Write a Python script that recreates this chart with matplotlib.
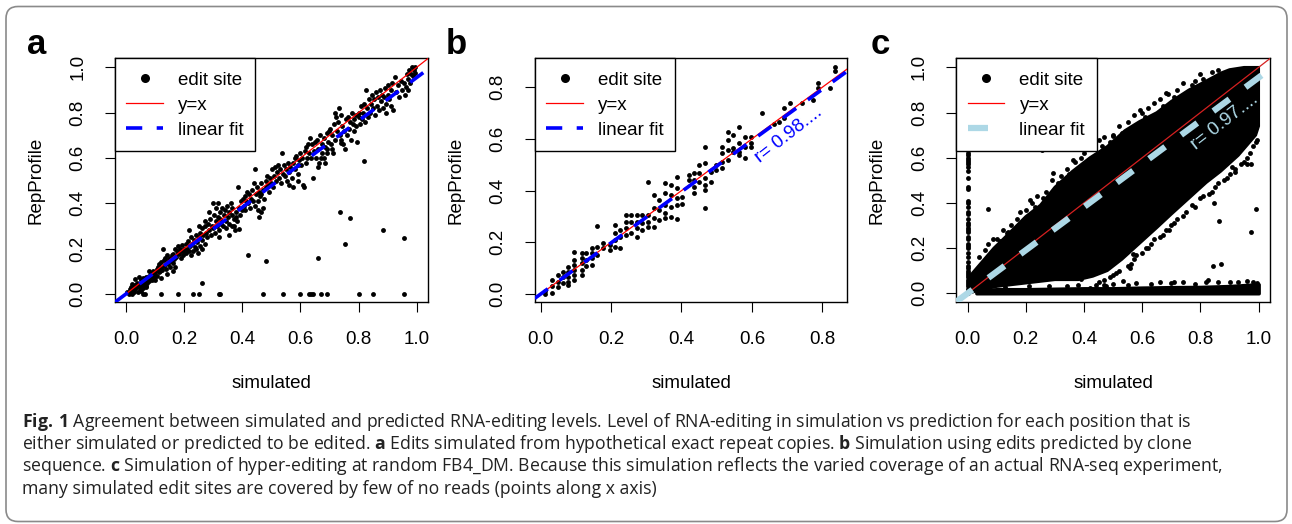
import numpy as np
import matplotlib
matplotlib.use("Agg")
from matplotlib import pyplot as plt
from matplotlib.lines import Line2D
from matplotlib.patches import FancyBboxPatch, Polygon

plt.rcParams['font.family'] = ['Liberation Sans', 'DejaVu Sans']
plt.rcParams['mathtext.fontset'] = 'custom'
plt.rcParams['mathtext.rm'] = 'Open Sans'
plt.rcParams['mathtext.bf'] = 'Open Sans:bold'

# ---------------- panel a : exact repeat copies ----------------
a_band = [
    (0.005,0.01),(0.01,0.0),(0.012,0.02),(0.015,0.005),(0.018,0.03),(0.02,0.015),(0.022,0.0),(0.025,0.025),
    (0.028,0.01),(0.03,0.04),(0.032,0.02),(0.035,0.03),(0.038,0.05),(0.04,0.01),(0.042,0.035),(0.045,0.045),
    (0.048,0.02),(0.05,0.06),(0.052,0.04),(0.055,0.03),(0.058,0.055),(0.06,0.07),(0.062,0.045),(0.065,0.06),
    (0.068,0.035),(0.07,0.075),(0.072,0.05),(0.075,0.065),(0.078,0.08),(0.08,0.055),(0.082,0.07),(0.085,0.09),
    (0.088,0.06),(0.09,0.08),(0.092,0.1),(0.095,0.07),(0.098,0.085),(0.1,0.095),(0.03,0.065),(0.045,0.075),
    (0.02,0.045),(0.07,0.03),(0.05,0.015),(0.06,0.025),(0.08,0.1),(0.1,0.06),
    (0.105,0.11),(0.108,0.08),(0.11,0.12),(0.113,0.095),(0.115,0.13),(0.118,0.1),(0.12,0.14),(0.122,0.115),
    (0.125,0.105),(0.128,0.2),(0.13,0.15),(0.132,0.125),(0.135,0.16),(0.138,0.11),(0.14,0.14),(0.142,0.17),
    (0.145,0.13),(0.148,0.155),(0.15,0.12),(0.152,0.16),(0.155,0.145),(0.158,0.17),(0.16,0.135),(0.163,0.175),
    (0.165,0.155),(0.168,0.12),(0.17,0.2),(0.172,0.165),(0.175,0.19),(0.178,0.18),(0.18,0.21),(0.183,0.175),
    (0.185,0.2),(0.188,0.16),(0.19,0.19),(0.193,0.215),(0.195,0.17),(0.198,0.2),(0.2,0.185),(0.16,0.1),
    (0.14,0.09),(0.12,0.07),
    (0.205,0.22),(0.208,0.18),(0.21,0.2),(0.213,0.235),(0.215,0.19),(0.218,0.28),(0.22,0.21),(0.223,0.17),
    (0.225,0.25),(0.228,0.22),(0.23,0.19),(0.233,0.24),(0.236,0.205),(0.24,0.26),(0.243,0.23),(0.246,0.18),
    (0.25,0.25),(0.253,0.27),(0.256,0.21),(0.26,0.24),(0.263,0.29),(0.266,0.26),(0.27,0.22),(0.273,0.3),
    (0.276,0.27),(0.28,0.25),(0.283,0.31),(0.286,0.28),(0.29,0.33),(0.293,0.26),(0.296,0.3),(0.298,0.4),
    (0.3,0.29),(0.27,0.32),(0.285,0.36),(0.25,0.3),(0.24,0.2),(0.26,0.2),
    (0.302,0.35),(0.305,0.27),(0.308,0.32),(0.31,0.38),(0.312,0.3),(0.315,0.34),(0.318,0.4),(0.32,0.28),
    (0.322,0.33),(0.325,0.36),(0.328,0.31),(0.33,0.38),(0.333,0.3),(0.336,0.35),(0.34,0.37),(0.343,0.32),
    (0.346,0.39),(0.35,0.34),(0.353,0.36),(0.356,0.31),(0.36,0.4),(0.363,0.35),(0.366,0.38),(0.37,0.33),
    (0.372,0.3),(0.375,0.28),(0.378,0.36),(0.38,0.34),(0.383,0.32),(0.386,0.47),(0.388,0.285),(0.39,0.38),
    (0.393,0.35),(0.396,0.41),(0.4,0.37),(0.345,0.29),(0.365,0.3),(0.32,0.25),(0.355,0.26),
    (0.403,0.42),(0.405,0.39),(0.408,0.43),(0.41,0.37),(0.413,0.41),(0.416,0.45),(0.42,0.4),(0.423,0.44),
    (0.426,0.38),(0.43,0.42),(0.433,0.46),(0.436,0.41),(0.44,0.49),(0.443,0.55),(0.446,0.44),(0.45,0.47),
    (0.453,0.41),(0.456,0.45),(0.459,0.34),(0.46,0.43),(0.463,0.49),(0.466,0.44),(0.47,0.38),(0.473,0.46),
    (0.476,0.42),(0.48,0.5),(0.483,0.47),(0.486,0.52),(0.49,0.48),(0.493,0.45),(0.496,0.51),(0.5,0.49),
    (0.455,0.37),(0.445,0.39),(0.465,0.36),
    (0.503,0.55),(0.506,0.47),(0.51,0.52),(0.513,0.56),(0.516,0.5),(0.52,0.54),(0.523,0.57),(0.526,0.51),
    (0.53,0.55),(0.533,0.49),(0.536,0.62),(0.54,0.53),(0.543,0.57),(0.546,0.52),(0.55,0.55),(0.553,0.5),
    (0.556,0.58),(0.56,0.54),(0.565,0.56),(0.57,0.51),(0.575,0.58),(0.58,0.6),(0.583,0.55),(0.586,0.61),
    (0.59,0.57),(0.593,0.5),(0.596,0.59),(0.6,0.62),(0.56,0.48),(0.575,0.47),(0.59,0.53),
    (0.603,0.57),(0.606,0.6),(0.61,0.48),(0.612,0.47),(0.615,0.63),(0.618,0.58),(0.62,0.65),(0.623,0.6),
    (0.626,0.66),(0.63,0.62),(0.633,0.69),(0.636,0.6),(0.64,0.66),(0.644,0.51),(0.648,0.63),(0.65,0.67),
    (0.653,0.6),(0.656,0.68),(0.66,0.64),(0.663,0.58),(0.666,0.7),(0.67,0.6),(0.673,0.66),(0.676,0.62),
    (0.68,0.69),(0.683,0.58),(0.686,0.65),(0.69,0.71),(0.693,0.62),(0.696,0.67),(0.7,0.72),(0.66,0.56),
    (0.68,0.6),(0.69,0.64),
    (0.703,0.73),(0.706,0.66),(0.71,0.7),(0.713,0.62),(0.716,0.75),(0.72,0.68),(0.723,0.78),(0.726,0.72),
    (0.73,0.76),(0.733,0.82),(0.736,0.7),(0.74,0.79),(0.743,0.74),(0.746,0.66),(0.75,0.72),(0.753,0.64),
    (0.756,0.77),(0.76,0.7),(0.763,0.78),(0.766,0.73),(0.77,0.76),(0.773,0.68),(0.776,0.8),(0.78,0.75),
    (0.783,0.77),(0.786,0.72),(0.79,0.79),(0.793,0.74),(0.796,0.67),(0.8,0.78),(0.74,0.68),(0.72,0.8),
    (0.71,0.64),
    (0.803,0.8),(0.806,0.75),(0.81,0.83),(0.813,0.77),(0.816,0.8),(0.82,0.84),(0.823,0.76),(0.826,0.9),
    (0.83,0.82),(0.833,0.78),(0.836,0.86),(0.84,0.8),(0.843,0.84),(0.846,0.88),(0.85,0.82),(0.853,0.86),
    (0.856,0.79),(0.86,0.89),(0.863,0.83),(0.866,0.87),(0.87,0.81),(0.873,0.9),(0.876,0.85),(0.88,0.88),
    (0.883,0.82),(0.886,0.87),(0.89,0.91),(0.893,0.84),(0.896,0.8),(0.9,0.88),
    (0.903,0.92),(0.906,0.86),(0.91,0.9),(0.913,0.83),(0.916,0.93),(0.92,0.81),(0.925,0.956),(0.93,0.89),
    (0.935,0.92),(0.94,0.87),(0.945,0.94),(0.95,0.9),(0.955,0.93),(0.96,0.88),(0.963,0.915),(0.966,0.97),
    (0.97,0.95),(0.973,0.99),(0.976,0.93),(0.98,0.97),(0.983,1.0),(0.986,0.96),(0.99,0.99),(0.993,0.975),
    (0.996,1.0),(0.97,0.9),
]
a_zero_x = [0.06, 0.065, 0.12, 0.18, 0.23, 0.25, 0.32, 0.325, 0.47, 0.54, 0.60, 0.63,
            0.635, 0.645, 0.67, 0.69, 0.80, 0.85, 0.955]
a_outliers = [(0.26,0.05),(0.42,0.17),(0.48,0.145),(0.66,0.16),(0.735,0.36),(0.77,0.335),
              (0.752,0.22),(0.885,0.28),(0.955,0.245),(0.82,0.585),(0.74,0.665)]
a_fit = (0.955, 0.0)   # slope, intercept of the linear fit

# ---------------- panel b : clone sequence ----------------
b_cols = {
    0.012: [0.01, 0.0], 0.031: [0.054, 0.031, 0.003], 0.05: [0.072, 0.048, 0.026],
    0.064: [0.086, 0.065, 0.041], 0.079: [0.106, 0.086, 0.067, 0.048, 0.035],
    0.096: [0.164, 0.132, 0.112, 0.093, 0.074, 0.054], 0.116: [0.157, 0.138, 0.119, 0.093, 0.074],
    0.129: [0.16, 0.13, 0.11], 0.145: [0.177, 0.157, 0.138, 0.112], 0.159: [0.263, 0.183, 0.151],
    0.178: [0.196, 0.177], 0.197: [0.17, 0.19], 0.211: [0.267, 0.235, 0.209, 0.183],
    0.225: [0.248, 0.222, 0.177], 0.241: [0.306, 0.28, 0.254, 0.228], 0.257: [0.306, 0.28, 0.235],
    0.273: [0.306, 0.28, 0.254, 0.219], 0.288: [0.306, 0.274, 0.248],
    0.306: [0.435, 0.306, 0.28, 0.261], 0.322: [0.383, 0.332, 0.293, 0.261],
    0.337: [0.364, 0.325, 0.286], 0.353: [0.428, 0.39, 0.345, 0.312, 0.293],
    0.369: [0.422, 0.383, 0.338, 0.299], 0.386: [0.452, 0.409, 0.37, 0.345, 0.289],
    0.402: [0.377, 0.348], 0.42: [0.461, 0.441], 0.436: [0.467, 0.441, 0.415, 0.39],
    0.451: [0.499, 0.467, 0.435], 0.467: [0.57, 0.506, 0.448, 0.422, 0.403, 0.332],
    0.483: [0.474, 0.435], 0.498: [0.499, 0.48], 0.516: [0.57, 0.545, 0.512, 0.486],
    0.531: [0.628, 0.596, 0.557, 0.519], 0.547: [0.615, 0.564, 0.551],
    0.564: [0.648, 0.583, 0.551, 0.538], 0.58: [0.609, 0.57, 0.525], 0.597: [0.609, 0.583, 0.57],
    0.628: [0.699], 0.663: [0.658], 0.678: [0.667], 0.691: [0.719, 0.68], 0.708: [0.738],
    0.741: [0.738], 0.773: [0.751], 0.789: [0.818, 0.796], 0.822: [0.796], 0.836: [0.88, 0.861],
}
b_fit = (0.99, 0.0)

# ---------------- panel c : hyper-editing at random FB4_DM ----------------
c_cloud = [(0.005,0.02),(0.01,0.08),(0.03,0.11),(0.09,0.2),(0.13,0.25),(0.2,0.34),(0.25,0.39),
           (0.3,0.47),(0.36,0.54),(0.42,0.6),(0.48,0.65),(0.54,0.72),(0.59,0.76),(0.65,0.8),
           (0.7,0.85),(0.76,0.9),(0.82,0.94),(0.87,0.975),(0.9,0.99),(0.95,1.0),(1.0,1.0),
           (1.0,0.74),(0.99,0.7),(0.93,0.61),(0.87,0.54),(0.82,0.49),(0.76,0.42),(0.7,0.35),
           (0.65,0.29),(0.59,0.22),(0.53,0.15),(0.48,0.1),(0.43,0.075),(0.38,0.06),(0.3,0.06),
           (0.2,0.045),(0.1,0.03),(0.03,0.01),(0.005,0.0)]
c_floor_x = [0.03, 0.1, 0.2, 0.3, 0.4, 0.5, 0.6, 0.7, 0.8, 0.9, 0.95, 1.0]
c_floor_top = [0.012, 0.018, 0.018, 0.02, 0.022, 0.022, 0.025, 0.027, 0.028, 0.032, 0.036, 0.04]
c_floor_dots = [(0.06,0.03),(0.13,0.028),(0.21,0.03),(0.28,0.033),(0.34,0.03),(0.38,0.036),
                (0.44,0.038),(0.5,0.04),(0.55,0.038),(0.58,0.045),(0.63,0.042),(0.66,0.05),
                (0.7,0.045),(0.74,0.048),(0.78,0.04),(0.82,0.05),(0.86,0.048),(0.9,0.05),
                (0.93,0.052),(0.96,0.055),(0.98,0.05),(0.995,0.045),(0.71,0.05),(0.47,0.035)]
c_col_y = [0.0, 0.01, 0.02, 0.03, 0.04, 0.05, 0.06, 0.07, 0.08, 0.09, 0.1, 0.11, 0.12, 0.14,
           0.16, 0.18, 0.2, 0.21, 0.22, 0.24, 0.25, 0.27, 0.28, 0.29, 0.3, 0.31, 0.33, 0.35,
           0.36, 0.38, 0.4, 0.41, 0.46, 0.47, 0.51, 0.54, 0.56, 0.57, 0.58, 0.59, 0.6, 0.61, 0.62]
c_edge = [(0.04,0.16),(0.06,0.19),(0.1,0.24),(0.12,0.28),(0.15,0.3),(0.17,0.33),(0.2,0.37),
          (0.22,0.4),(0.24,0.43),(0.27,0.45),(0.29,0.5),(0.32,0.52),(0.34,0.55),(0.37,0.58),
          (0.4,0.62),(0.43,0.64),(0.45,0.68),(0.47,0.69),(0.5,0.7),(0.52,0.74),(0.55,0.76),
          (0.57,0.79),(0.6,0.8),(0.62,0.82),(0.64,0.84),(0.66,0.86),(0.69,0.88),(0.72,0.9),
          (0.74,0.93),(0.78,0.94),(0.8,0.97),(0.84,0.98),(0.86,0.99),
          (0.07,0.22),(0.11,0.23),(0.14,0.27),(0.18,0.36),(0.23,0.38),(0.26,0.42),(0.31,0.49),
          (0.35,0.53),(0.39,0.6),(0.41,0.58),(0.46,0.65),(0.49,0.67),(0.53,0.71),(0.56,0.73),
          (0.61,0.78),(0.67,0.83),(0.71,0.87),(0.77,0.92),(0.81,0.95),
          (0.98,0.65),(0.97,0.62),(0.95,0.58),(0.92,0.55),(0.9,0.53),(0.88,0.5),(0.85,0.47),
          (0.83,0.44),(0.8,0.42),(0.78,0.38),(0.75,0.36),(0.72,0.33),(0.7,0.3),(0.67,0.26),
          (0.64,0.24),(0.62,0.2),(0.6,0.18),(0.57,0.15),(0.55,0.12),(0.52,0.1),(0.5,0.08),
          (0.47,0.06),(0.45,0.05),
          (0.99,0.67),(0.96,0.6),(0.94,0.57),(0.91,0.56),(0.89,0.51),(0.86,0.49),(0.84,0.45),
          (0.81,0.43),(0.77,0.39),(0.74,0.34),(0.71,0.31),(0.68,0.28),(0.66,0.25),(0.63,0.22),
          (0.58,0.17),(0.56,0.13),(0.51,0.09),(0.49,0.07)]
c_outliers = [(0.071,0.371),(0.254,0.635),(0.961,0.572),(0.975,0.572),(0.994,0.68),(0.846,0.4),
              (0.863,0.322),(0.992,0.373),(0.973,0.272),(0.843,0.12),(0.872,0.128),(0.614,0.2),
              (0.692,0.282),(0.66,0.32),(0.569,0.172),(0.557,0.113),(0.5,0.146),(0.328,0.091),
              (0.391,0.062),(0.42,0.025),(0.92,0.537),(0.992,0.738),(0.477,0.032),(0.826,0.059),
              (0.534,0.054),(0.088,0.238),(0.134,0.268),(0.214,0.415),(0.294,0.532),(0.363,0.591),
              (0.431,0.679),(0.5,0.694),(0.592,0.812),(0.683,0.885),(0.614,0.738)]
c_fit = (0.955, 0.0)

caption = [
    r"$\bf{Fig.\,1}$ Agreement between simulated and predicted RNA-editing levels. Level of RNA-editing in simulation vs prediction for each position that is",
    r"either simulated or predicted to be edited. $\bf{a}$ Edits simulated from hypothetical exact repeat copies. $\bf{b}$ Simulation using edits predicted by clone",
    r"sequence. $\bf{c}$ Simulation of hyper-editing at random FB4_DM. Because this simulation reflects the varied coverage of an actual RNA-seq experiment,",
    r"many simulated edit sites are covered by few of no reads (points along x axis)",
]

W, H = 1292, 524
fig = plt.figure(figsize=(W / 100, H / 100), dpi=100)

def px_axes(left, top, right, bottom):
    return fig.add_axes([left / W, 1 - bottom / H, (right - left) / W, (bottom - top) / H])

def style(ax, xlim, ylim, xt, yt):
    ax.set_xlim(*xlim)
    ax.set_ylim(*ylim)
    ax.set_xticks(xt)
    ax.set_yticks(yt)
    ax.set_xticklabels(["%.1f" % v for v in xt])
    ax.set_yticklabels(["%.1f" % v for v in yt], rotation=90, va="center")
    ax.tick_params(direction="out", length=7.5, width=0.8, labelsize=13.5, pad=13)
    for s in ax.spines.values():
        s.set_linewidth(1.0)
    ax.set_xlabel("simulated", fontsize=13.5, va="center")
    ax.set_ylabel("RepProfile", fontsize=13.5, va="center")
    ax.xaxis.set_label_coords(0.5, -81 / 244)
    ax.yaxis.set_label_coords(-78.7 / 313, 0.5)

def dots(ax, x, y, z=2):
    ax.plot(x, y, "o", ms=3.5, color="black", mec="none", zorder=z)

def legend(ax, fitcol, fitlw, fitls):
    hs = [Line2D([], [], ls="none", marker="o", ms=6.5, color="black", mec="none"),
          Line2D([], [], color="red", lw=0.9),
          Line2D([], [], color=fitcol, lw=fitlw, ls=fitls)]
    lg = ax.legend(hs, ["edit site", "y=x", "linear fit"], loc="upper left", borderaxespad=0,
                   fancybox=False, edgecolor="black", framealpha=1, fontsize=13.5,
                   handlelength=1.95, handletextpad=0.8, labelspacing=0.3, borderpad=0.62,
                   handleheight=1.1)
    lg.get_frame().set_linewidth(1.0)
    lg.set_zorder(10)

blue_ls = (0, (4.5, 4))
lb_ls = (0, (3.2, 3.2))
lightblue = "#add8e6"

# panel a
ax = px_axes(114.7, 58.3, 427.7, 302.3)
bx, by = np.array(a_band).T
ox, oy = np.array(a_outliers).T
dots(ax, bx, by)
dots(ax, a_zero_x, np.zeros(len(a_zero_x)))
dots(ax, ox, oy)
ax.axline((0, 0), slope=1, color="red", lw=0.9, zorder=3)
ax.axline((0, a_fit[1]), slope=a_fit[0], color="blue", lw=2.6, ls=blue_ls, zorder=4)
style(ax, (-0.039, 1.038), (-0.037, 1.04), [0, 0.2, 0.4, 0.6, 0.8, 1.0], [0, 0.2, 0.4, 0.6, 0.8, 1.0])
legend(ax, "blue", 2.6, blue_ls)

# panel b
ax = px_axes(534.7, 58.3, 847.3, 302.3)
bxs = [x for x, ys in b_cols.items() for _ in ys]
bys = [y for ys in b_cols.values() for y in ys]
dots(ax, bxs, bys)
ax.axline((0, 0), slope=1, color="red", lw=0.9, zorder=3)
ax.axline((0, b_fit[1]), slope=b_fit[0], color="blue", lw=2.6, ls=blue_ls, zorder=4)
ax.text(0.705, 0.615, "r= 0.98....", color="blue", fontsize=13.5, rotation=38,
        ha="center", va="center", zorder=5)
style(ax, (-0.017, 0.871), (-0.032, 0.912), [0, 0.2, 0.4, 0.6, 0.8], [0, 0.2, 0.4, 0.6, 0.8])
legend(ax, "blue", 2.6, blue_ls)

# panel c
ax = px_axes(956.3, 58.3, 1270, 302.3)
ax.add_patch(Polygon(c_cloud, closed=True, facecolor="black", edgecolor="black", lw=2, zorder=2))
ax.fill_between(c_floor_x, 0, c_floor_top, facecolor="black", edgecolor="black", lw=2.5, zorder=2)
fx, fy = np.array(c_floor_dots).T
dots(ax, fx, fy)
dots(ax, np.zeros(len(c_col_y)), c_col_y)
ex, ey = np.array(c_edge).T
dots(ax, ex, ey)
ox, oy = np.array(c_outliers).T
dots(ax, ox, oy)
ax.axline((0, 0), slope=1, color="#d62020", lw=0.9, zorder=3)
ax.axline((0, c_fit[1]), slope=c_fit[0], color=lightblue, lw=4.5, ls=lb_ls, zorder=4)
ax.text(0.885, 0.76, "r= 0.97....", color=lightblue, fontsize=13.5, rotation=38,
        ha="center", va="center", zorder=5)
style(ax, (-0.039, 1.039), (-0.04, 1.04), [0, 0.2, 0.4, 0.6, 0.8, 1.0], [0, 0.2, 0.4, 0.6, 0.8, 1.0])
legend(ax, lightblue, 4.5, lb_ls)

# panel letters
for lx, ly, s in [(37, 53.5, "a"), (456, 54.3, "b"), (880, 53.5, "c")]:
    fig.text(lx / W, 1 - ly / H, s, fontsize=25, fontweight="bold", ha="center", va="baseline")

# caption
for i, line in enumerate(caption):
    fig.text(22.5 / W, 1 - (421.7 + 22.3 * i) / H, line, fontsize=12.7, family="Open Sans",
             ha="left", va="center", color="#222222")

# rounded outer frame
fig.patches.append(FancyBboxPatch((0.06, 0.025), 12.81, 5.15, boxstyle="round,pad=0,rounding_size=0.12",
                                  transform=fig.dpi_scale_trans, facecolor="none",
                                  edgecolor="#8a8a8a", lw=1.2))

fig.savefig("out.png", dpi=100)
